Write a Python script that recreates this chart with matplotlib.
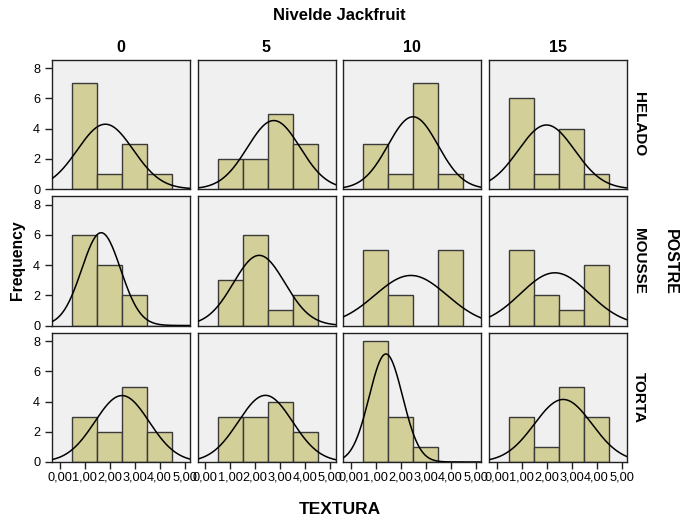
import numpy as np
import matplotlib
matplotlib.use("Agg")
import matplotlib.pyplot as plt

plt.rcParams['font.family'] = ['Liberation Sans', 'DejaVu Sans']

levels = ["0", "5", "10", "15"]
postres = ["HELADO", "MOUSSE", "TORTA"]
scores = [1, 2, 3, 4]
# counts[postre][level] -> frequency of each texture score
counts = {
    "HELADO": {"0": [7, 1, 3, 1], "5": [2, 2, 5, 3], "10": [3, 1, 7, 1], "15": [6, 1, 4, 1]},
    "MOUSSE": {"0": [6, 4, 2, 0], "5": [3, 6, 1, 2], "10": [5, 2, 0, 5], "15": [5, 2, 1, 4]},
    "TORTA":  {"0": [3, 2, 5, 2], "5": [3, 3, 4, 2], "10": [8, 3, 1, 0], "15": [3, 1, 5, 3]},
}
xticks = [0, 1, 2, 3, 4, 5]
xticklabels = ["0,00", "1,00", "2,00", "3,00", "4,00", "5,00"]
yticks = [0, 2, 4, 6, 8]

W, H = 685, 530
fig = plt.figure(figsize=(W / 100, H / 100), dpi=100)

col_left = [52, 197.5, 343, 489]
row_top = [60, 196.5, 333]
pw, ph = 138, 129

bar_color = "#d3cf98"
edge_color = "#3a3a3a"
bg = "#f0f0f0"
xlim = (-0.3, 5.22)
ylim = (0, 8.55)

for r, p in enumerate(postres):
    for c, lv in enumerate(levels):
        ax = fig.add_axes([col_left[c] / W, 1 - (row_top[r] + ph) / H, pw / W, ph / H])
        ax.set_facecolor(bg)
        cnt = np.array(counts[p][lv])
        ax.bar(scores, cnt, width=1.0, color=bar_color, edgecolor=edge_color, linewidth=1.0, zorder=2)
        vals = np.repeat(scores, cnt)
        n = len(vals)
        m = vals.mean()
        s = vals.std(ddof=1)
        xx = np.linspace(xlim[0], xlim[1], 300)
        yy = n * 1.0 / (s * np.sqrt(2 * np.pi)) * np.exp(-0.5 * ((xx - m) / s) ** 2)
        ax.plot(xx, yy, color="black", lw=1.1, zorder=3)
        ax.set_xlim(*xlim)
        ax.set_ylim(*ylim)
        for sp in ax.spines.values():
            sp.set_color("#222222")
            sp.set_linewidth(1.0)
        ax.tick_params(direction="out", length=5, width=1, color="#222222", labelsize=9)
        if c == 0:
            ax.set_yticks(yticks)
            ax.set_yticklabels([str(v) for v in yticks], fontsize=9.2)
        else:
            ax.set_yticks([])
        if r == len(postres) - 1:
            ax.set_xticks(xticks)
            ax.set_xticklabels(xticklabels, fontsize=9.2)
            ax.tick_params(axis="x", pad=2)
        else:
            ax.set_xticks([])
        if r == 0:
            ax.set_title(lv, fontsize=11.5, fontweight="bold", pad=6)
        if c == len(levels) - 1:
            ax.text(1.085, 0.5, p, transform=ax.transAxes, rotation=-90,
                    ha="center", va="center", fontsize=11, fontweight="bold")

fig.text(339 / W, 1 - 16 / H, "Nivelde Jackfruit", ha="center", va="center", fontsize=12, fontweight="bold")
fig.text(670 / W, 1 - 262 / H, "POSTRE", ha="center", va="center", rotation=-90, fontsize=11.5, fontweight="bold")
fig.text(18 / W, 1 - 260 / H, "Frequency", ha="center", va="center", rotation=90, fontsize=11.3, fontweight="bold")
fig.text(340 / W, 1 - 510 / H, "TEXTURA", ha="center", va="center", fontsize=12.5, fontweight="bold")

fig.savefig("out.png", dpi=100, facecolor="white")
